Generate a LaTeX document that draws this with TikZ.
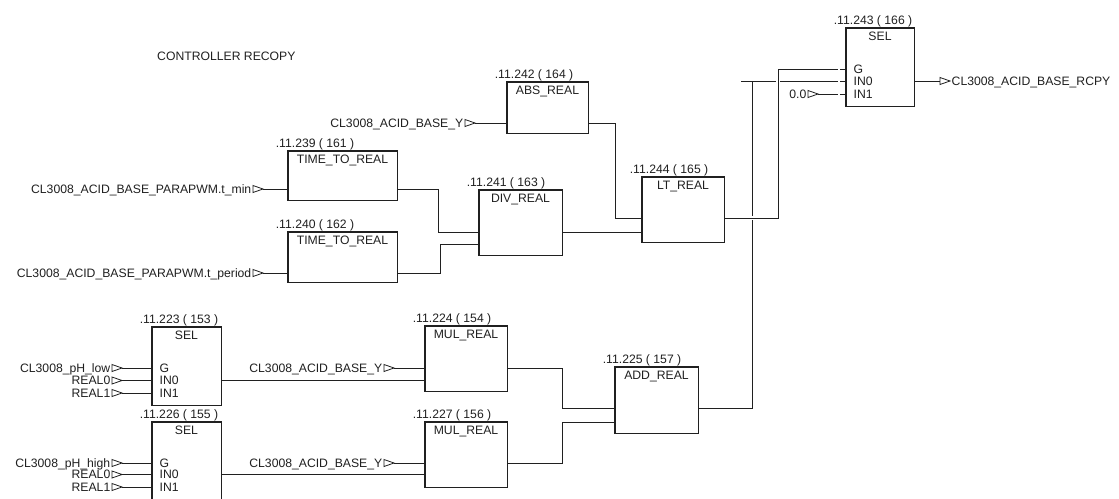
\documentclass[tikz,border=0pt]{standalone}
\usepackage{fontspec}
\setmainfont{Liberation Sans}
\usetikzlibrary{fit,calc}
\definecolor{ink}{HTML}{202020}
\tikzset{
  wire/.style={draw=ink, line width=0.8pt},
  blk/.style={draw=ink, line width=0.8pt, rectangle, inner sep=0pt},
  txt/.style={inner sep=0pt, font=\fontsize{12.2}{14}\selectfont, text=ink},
  tri/.style={draw=ink, line width=0.8pt, line join=miter},
  gapline/.style={draw=white, line width=1.6pt},
}
\newcommand\fblock[7]{% name, l, t, r, b, title, label
  \node[blk, fit={(#2,#3) (#4,#5)}] (#1) {};
  \node[txt, anchor=base] (#1-title) at ($(#1.north)+(0,12.5)$) {#6};
  \node[txt, anchor=base west] (#1-label) at ($(#1.north west)+(-12,-3.5)$) {#7};
}
\newcommand\interm[4]{% name, tipx, y, text
  \draw[tri] (#2-10,#3-3.5) -- (#2,#3) -- (#2-10,#3+3.5) -- cycle;
  \coordinate (#1) at (#2,#3);
  \node[txt, anchor=base east] (#1-txt) at (#2-11.5,#3+4) {#4};
}
\newcommand\outterm[4]{% name, leftx, y, text
  \draw[tri] (#2,#3-3.5) -- (#2+10,#3) -- (#2,#3+3.5) -- cycle;
  \coordinate (#1) at (#2,#3);
  \node[txt, anchor=base west] (#1-txt) at (#2+11.5,#3+4) {#4};
}
\newcommand\pinlbl[3]{% x, y, text
  \node[txt, anchor=base west] at (#1,#2+4) {#3};
}
\begin{document}
\begin{tikzpicture}[x=1pt, y=-1pt]
\clip (0,0) rectangle (1119,498);
\fill[white] (0,0) rectangle (1119,498);

\node[txt, anchor=base west] (title) at (157,60.5) {CONTROLLER RECOPY};

% ---- terminals ----
\interm{tmin}{263}{189}{CL3008\_ACID\_BASE\_PARAPWM.t\_min}
\interm{tper}{263}{273}{CL3008\_ACID\_BASE\_PARAPWM.t\_period}
\interm{absin}{475}{123}{CL3008\_ACID\_BASE\_Y}
\interm{zero}{818}{94}{0.0}
\interm{phlow}{122}{368}{CL3008\_pH\_low}
\interm{rza}{122}{380.5}{REAL0}
\interm{roa}{122}{393}{REAL1}
\interm{phhigh}{122}{463}{CL3008\_pH\_high}
\interm{rzb}{122}{474.5}{REAL0}
\interm{rob}{122}{487}{REAL1}
\interm{ya}{394}{368}{CL3008\_ACID\_BASE\_Y}
\interm{yb}{394}{463}{CL3008\_ACID\_BASE\_Y}
\outterm{rcpy}{940}{81}{CL3008\_ACID\_BASE\_RCPY}

% ---- blocks ----
\fblock{ttra}{288}{151}{397}{200}{TIME\_TO\_REAL}{.11.239 ( 161 )}
\fblock{ttrb}{288}{232}{397}{282}{TIME\_TO\_REAL}{.11.240 ( 162 )}
\fblock{abs}{507}{82}{588}{133}{ABS\_REAL}{.11.242 ( 164 )}
\fblock{div}{479}{190}{562}{255}{DIV\_REAL}{.11.241 ( 163 )}
\fblock{lt}{642}{177}{724}{242}{LT\_REAL}{.11.244 ( 165 )}
\fblock{selc}{846}{28}{914}{106}{SEL}{.11.243 ( 166 )}
\fblock{sela}{152}{327}{221}{405}{SEL}{.11.223 ( 153 )}
\fblock{selb}{152}{422}{221}{510}{SEL}{.11.226 ( 155 )}
\fblock{mula}{425}{326}{507}{391}{MUL\_REAL}{.11.224 ( 154 )}
\fblock{mulb}{425}{422}{507}{487}{MUL\_REAL}{.11.227 ( 156 )}
\fblock{add}{615}{367}{698}{433}{ADD\_REAL}{.11.225 ( 157 )}

% ---- pin labels ----
\pinlbl{159.5}{368}{G}\pinlbl{159.5}{380.5}{IN0}\pinlbl{159.5}{393}{IN1}
\pinlbl{159.5}{463}{G}\pinlbl{159.5}{474.5}{IN0}\pinlbl{159.5}{487}{IN1}
\pinlbl{853.5}{69}{G}\pinlbl{853.5}{81}{IN0}\pinlbl{853.5}{94}{IN1}

% ---- wires ----
\draw[wire] (tmin) -- (ttra.west |- tmin);
\draw[wire] (tper) -- (ttrb.west |- tper);
\draw[wire] (ttra.east |- tmin) -- ++(41,0) |- (div.west |- 0,232);
\draw[wire] (ttrb.east |- tper) -- ++(43,0) |- (div.west |- 0,244);
\draw[wire] (absin) -- (abs.west |- absin);
\draw[wire] (abs.east |- absin) -- ++(27,0) |- (lt.west |- 0,218);
\draw[wire] (div.east |- 0,232) -- (lt.west |- 0,232);

\draw[wire] (phlow) -- (sela.west |- phlow);
\draw[wire] (rza) -- (sela.west |- rza);
\draw[wire] (roa) -- (sela.west |- roa);
\draw[wire] (phhigh) -- (selb.west |- phhigh);
\draw[wire] (rzb) -- (selb.west |- rzb);
\draw[wire] (rob) -- (selb.west |- rob);

\draw[wire] (sela.east |- rza) -- (mula.west |- rza);
\draw[wire] (selb.east |- rzb) -- (mulb.west |- rzb);
\draw[wire] (ya) -- (mula.west |- ya);
\draw[wire] (yb) -- (mulb.west |- yb);
\draw[wire] (mula.east |- ya) -- ++(55,0) |- (add.west |- 0,408);
\draw[wire] (mulb.east |- yb) -- ++(55,0) |- (add.west |- 0,422);

\coordinate (stub) at (741,81);
\draw[wire] (add.east |- 0,408) -- ++(54,0) -- ++(0,-327);
\draw[wire] (stub) -- (selc.west |- stub);
\draw[wire, preaction={draw=white, line width=4pt}] (lt.east |- 0,218) -- ++(54,0) |- (selc.west |- 0,69);
\draw[wire] (zero) -- (selc.west |- zero);
\draw[wire] (selc.east |- rcpy) -- (rcpy);

\foreach \yy in {69,81,94} \draw[gapline] (837.6,\yy) -- (839.8,\yy);

% redraw block outlines over wire ends
\foreach \b in {ttra,ttrb,abs,div,lt,selc,sela,selb,mula,mulb,add}
  \draw[draw=ink, line width=0.8pt] (\b.north west) rectangle (\b.south east);
\end{tikzpicture}
\end{document}
